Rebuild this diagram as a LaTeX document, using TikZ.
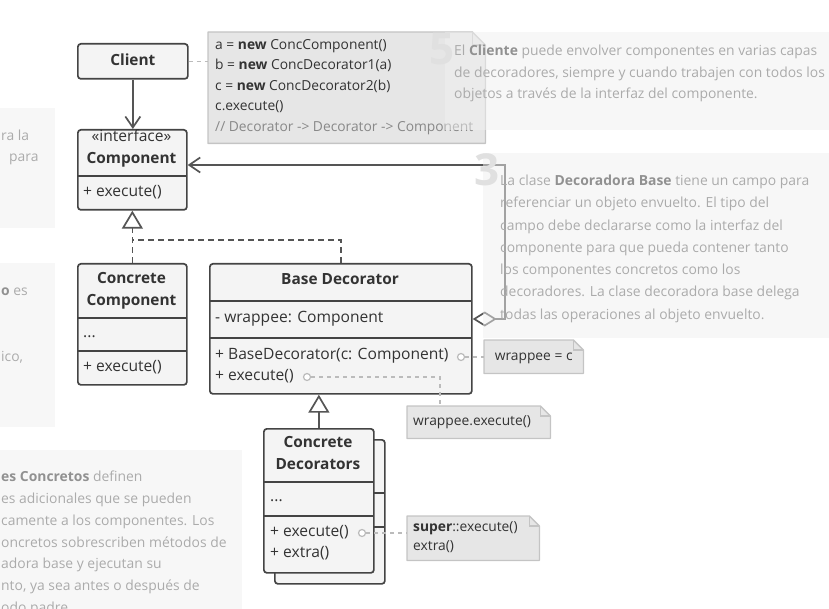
\documentclass[tikz,border=0pt]{standalone}
\usepackage{fontspec}
\setmainfont{Open Sans}
\newfontfamily\notefont{Open Sans}
\usetikzlibrary{arrows.meta}
\definecolor{boxc}{HTML}{444444}
\definecolor{boxfill}{HTML}{F4F4F4}
\definecolor{linec}{HTML}{555555}
\definecolor{notefill}{HTML}{E6E6E6}
\definecolor{notedraw}{HTML}{C4C4C4}
\definecolor{txt}{HTML}{333333}
\definecolor{cmt}{HTML}{888888}
\definecolor{paneltxt}{HTML}{ABABAB}
\definecolor{panelbold}{HTML}{919191}
\definecolor{digitc}{HTML}{E0E0E0}
\definecolor{panelfill}{HTML}{F0F0F0}
\definecolor{connc}{HTML}{BBBBBB}
\newcommand\dognote[2]{%
  \draw[notedraw, line width=1.3pt, fill=notefill, line join=round]
    (#1.north west) -- ([xshift=-#2]#1.north east) -- ([yshift=-#2]#1.north east)
    -- (#1.south east) -- (#1.south west) -- cycle;
  \draw[notedraw, line width=1.3pt] ([xshift=-#2]#1.north east) |- ([yshift=-#2]#1.north east);}
\begin{document}
\begin{tikzpicture}[x=1pt,y=-1pt,
  umlbox/.style={draw=boxc, line width=1.7pt, fill=boxfill, rounded corners=3pt, inner sep=0pt, anchor=north west},
  divline/.style={draw=boxc, line width=1.7pt},
  lbl/.style={font=\fontsize{15.6}{19}\selectfont, text=txt, inner sep=0pt, text height=11.5pt, text depth=4pt},
  ttl/.style={lbl, font=\bfseries\fontsize{15.4}{19}\selectfont},
  conn/.style={draw=linec, line width=1.7pt},
  assoc/.style={conn, -{Straight Barb[length=11pt,width=15pt]}},
  realize/.style={conn, dash pattern=on 6pt off 4pt},
  inh/.style={-{Triangle[length=18pt,width=21pt,fill=white]}},
  aggr/.style={conn, {Diamond[length=24pt,width=15pt,fill=white]}-{Straight Barb[length=11pt,width=15pt]}},
  notelink/.style={draw=connc, line width=1.3pt, dash pattern=on 4pt off 4pt},
  dot/.style={circle, draw=connc, fill=white, line width=1.2pt, minimum size=7pt, inner sep=0pt},
  notebox/.style={inner sep=0pt, anchor=north west},
  ntxt/.style={lbl, font=\fontsize{13.8}{17}\selectfont, anchor=west, text height=10.5pt, text depth=3.5pt},
  panel/.style={fill=panelfill, fill opacity=0.5, draw=none},
  ptext/.style={font=\notefont\fontsize{13.9}{17}\selectfont, text=paneltxt, anchor=west, inner sep=0pt, text height=10.5pt, text depth=3.5pt},
  digit/.style={font=\notefont\bfseries\fontsize{44}{44}\selectfont, text=digitc, inner sep=0pt}
]
\useasboundingbox (0,0) rectangle (829,609);

% ---------- notes (under everything) ----------
\node[notebox, minimum width=277pt, minimum height=111pt] (code) at (208,32) {};
\dognote{code}{13pt}
\node[ntxt] (c1) at (215,46) {a = \textbf{new} ConcComponent()};
\node[ntxt] (c2) at (215,66.5) {b = \textbf{new} ConcDecorator1(a)};
\node[ntxt] (c3) at (215,87) {c = \textbf{new} ConcDecorator2(b)};
\node[ntxt] (c4) at (215,107.5) {c.execute()};
\node[ntxt, text=cmt] (c5) at (215,128) {// Decorator -> Decorator -> Component};

\node[notebox, minimum width=99pt, minimum height=33pt] (nwc) at (484,340) {};
\dognote{nwc}{10pt}
\node[ntxt, anchor=center] (nwcT) at (nwc.center) {wrappee = c};

\node[notebox, minimum width=143pt, minimum height=32pt] (nwe) at (407,406) {};
\dognote{nwe}{10pt}
\node[ntxt] (nweT) at (413,422) {wrappee.execute()};

\node[notebox, minimum width=132pt, minimum height=44pt] (nsup) at (407,516) {};
\dognote{nsup}{10pt}
\node[ntxt] (ns1) at (413,528) {\textbf{super}::execute()};
\node[ntxt] (ns2) at (413,547) {extra()};

% ---------- boxes ----------
\node[umlbox, minimum width=110pt, minimum height=35pt] (client) at (77,43) {};
\node[ttl] (clientT) at (client.center) {Client};

\node[umlbox, minimum width=109pt, minimum height=80pt] (comp) at (77,129) {};
\draw[divline] (77,176) -- (186,176);
\node[lbl] (compS) at (131.5,137.5) {«interface»};
\node[ttl] (compT) at (131.5,159.5) {Component};
\node[lbl, anchor=west] (compM) at (83,193) {+ execute()};

\node[umlbox, minimum width=109pt, minimum height=121pt] (cc) at (77,263) {};
\draw[divline] (77,318) -- (186,318);
\draw[divline] (77,351) -- (186,351);
\node[ttl] (ccT1) at (131.5,280) {Concrete};
\node[ttl] (ccT2) at (131.5,301.5) {Component};
\node[lbl, anchor=west] (ccF) at (83,334) {...};
\node[lbl, anchor=west] (ccM) at (83,367.5) {+ execute()};

\node[umlbox, minimum width=262pt, minimum height=130pt] (bd) at (209,263) {};
\draw[divline] (209,301) -- (471,301);
\draw[divline] (209,338) -- (471,338);
\node[ttl] (bdT) at (340,281) {Base Decorator};
\node[lbl, anchor=west] (bdF) at (215,319) {- wrappee: Component};
\node[lbl, anchor=west] (bdM1) at (215,356) {+ BaseDecorator(c: Component)};
\node[lbl, anchor=west] (bdM2) at (215,377) {+ execute()};

\node[umlbox, minimum width=110pt, minimum height=144pt] (cdb) at (274,439) {};
\draw[divline] (274,493) -- (384,493);
\draw[divline] (274,527) -- (384,527);
\node[umlbox, minimum width=110pt, minimum height=144pt] (cd) at (263,428) {};
\draw[divline] (263,482) -- (373,482);
\draw[divline] (263,516) -- (373,516);
\node[ttl] (cdT1) at (318,444) {Concrete};
\node[ttl] (cdT2) at (318,466) {Decorators};
\node[lbl, anchor=west] (cdF) at (270,498) {...};
\node[lbl, anchor=west] (cdM1) at (270,533) {+ execute()};
\node[lbl, anchor=west] (cdM2) at (270,554) {+ extra()};

% ---------- connectors ----------
\coordinate (jn) at (131.5,240);
\coordinate (a1) at (505,319);
\coordinate (a2) at (505,165);
\coordinate (k) at (440,406);

\draw[assoc] (client.south) -- (client.south |- comp.north);
\draw[realize, inh] (cc.north) -- (comp.south);
\draw[realize] (bd.north) |- (jn);
\draw[conn, inh] (cd.north) -- (cd.north |- bd.south);
\draw[aggr] (bd.north east |- a1) -- (a1) -- (a2) -- (comp.east |- a2);

\node[dot] (d1) at (461,357) {};
\node[dot] (d2) at (307,377) {};
\node[dot] (d3) at (362,533) {};
\draw[notelink] (client.east) -- (client.east -| code.west);
\draw[notelink] (d1) -- (d1 -| nwc.west);
\draw[notelink] (d2) -| (k);
\draw[notelink] (d3) -- (d3 -| nsup.west);

% ---------- explanation panels ----------
\fill[panel] (445,32) rectangle (829,130);
\fill[panel] (483,153) rectangle (829,338);
\fill[panel] (0,108) rectangle (55,228);
\fill[panel] (0,263) rectangle (55,427);
\fill[panel] (0,450) rectangle (242,609);

\node[digit] (dig5) at (442,49) {5};
\node[digit] (dig3) at (487,170) {3};

\node[ptext] (p5a) at (454,52) {El {\bfseries\color{panelbold}Cliente} puede envolver componentes en varias capas};
\node[ptext] (p5b) at (454,73.7) {de decoradores, siempre y cuando trabajen con todos los};
\node[ptext] (p5c) at (454,95.3) {objetos a través de la interfaz del componente.};

\node[ptext] (p3a) at (500,182) {La clase {\bfseries\color{panelbold}Decoradora Base} tiene un campo para};
\node[ptext] (p3b) at (500,204.3) {referenciar un objeto envuelto. El tipo del};
\node[ptext] (p3c) at (500,226.6) {campo debe declararse como la interfaz del};
\node[ptext] (p3d) at (500,248.9) {componente para que pueda contener tanto};
\node[ptext] (p3e) at (500,271.2) {los componentes concretos como los};
\node[ptext] (p3f) at (500,293.5) {decoradores. La clase decoradora base delega};
\node[ptext] (p3g) at (500,315.8) {todas las operaciones al objeto envuelto.};

\node[ptext] (p1a) at (1,137) {ra la};
\node[ptext] (p1b) at (9,158) {para};

\node[ptext] (p2a) at (1,292) {{\bfseries\color{panelbold}o} es};
\node[ptext] (p2b) at (1,358) {ico,};

\node[ptext] (p4a) at (1,478) {{\bfseries\color{panelbold}es Concretos} definen};
\node[ptext] (p4b) at (1,500) {es adicionales que se pueden};
\node[ptext] (p4c) at (1,522) {camente a los componentes. Los};
\node[ptext] (p4d) at (1,543.5) {oncretos sobrescriben métodos de};
\node[ptext] (p4e) at (1,565) {adora base y ejecutan su};
\node[ptext] (p4f) at (1,587) {nto, ya sea antes o después de};
\node[ptext] (p4g) at (1,609) {odo padre.};
\end{tikzpicture}
\end{document}
